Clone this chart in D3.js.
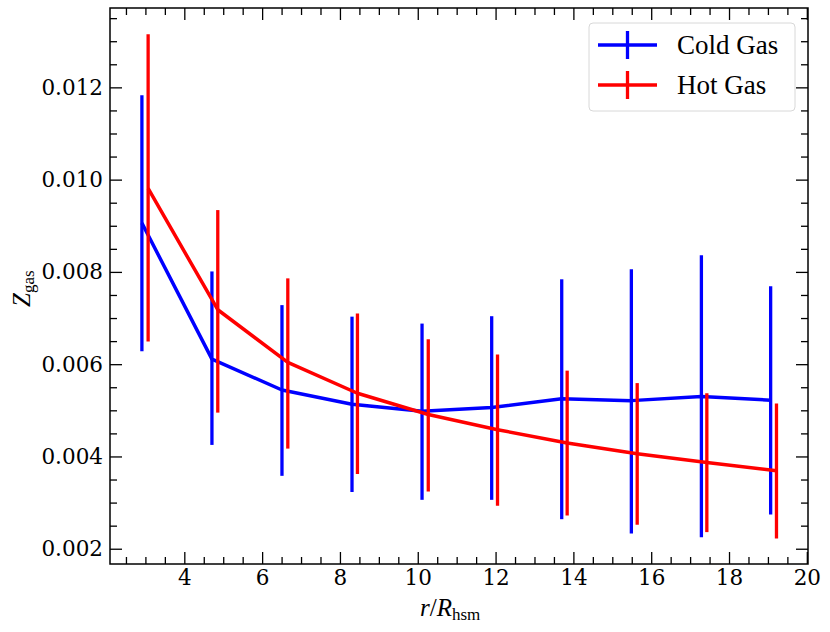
<!DOCTYPE html>
<html>
<head>
<meta charset="utf-8">
<script src="https://cdn.jsdelivr.net/npm/d3@7"></script>
<style>
  body { margin: 0; background: #fff; }
  svg { display: block; }
  .tick text { font-family: "DejaVu Serif", serif; font-size: 21.5px; fill: #000; }
</style>
</head>
<body>
<svg id="chart" width="830" height="632"></svg>
<script>
'use strict';

// radial bins
const coldR = [2.91, 4.71, 6.51, 8.31, 10.11, 11.90, 13.70, 15.49, 17.29, 19.07];
const coldZ = [0.00906, 0.00611, 0.00544, 0.00513, 0.00498, 0.00506, 0.00525, 0.00521, 0.00530, 0.00522];
const coldLo = [0.00628, 0.00425, 0.00358, 0.00323, 0.00306, 0.00306, 0.00264, 0.00233, 0.00225, 0.00274];
const coldHi = [0.01183, 0.00801, 0.00728, 0.00703, 0.00688, 0.00704, 0.00784, 0.00806, 0.00836, 0.00769];

const hotR = [3.07, 4.86, 6.66, 8.45, 10.27, 12.05, 13.84, 15.64, 17.43, 19.22];
const hotZ = [0.00981, 0.00718, 0.00604, 0.00537, 0.00491, 0.00458, 0.00429, 0.00406, 0.00387, 0.00369];
const hotLo = [0.00649, 0.00495, 0.00417, 0.00362, 0.00324, 0.00293, 0.00272, 0.00252, 0.00236, 0.00222];
const hotHi = [0.01315, 0.00934, 0.00786, 0.00710, 0.00654, 0.00621, 0.00586, 0.00559, 0.00537, 0.00515];

const seriesNames = ['Cold Gas', 'Hot Gas'];
const seriesColors = ['#0000ff', '#ff0000'];

const xTicks = [4, 6, 8, 10, 12, 14, 16, 18, 20];
const yTicks = [0.002, 0.004, 0.006, 0.008, 0.010, 0.012];

const svg = d3.select('#chart');
const frame = {left: 110, right: 808, top: 8, bottom: 564};

const x = d3.scaleLinear().domain([2.09, 20.03]).range([frame.left, frame.right]);
const y = d3.scaleLinear().domain([0.001669, 0.01372]).range([frame.bottom, frame.top]);

const xMinor = d3.range(2.5, 20.01, 0.5).filter(v => v % 2 !== 0);
const yMinor = d3.range(0.0020, 0.0137, 0.0005).filter(v => Math.abs(v / 0.002 - Math.round(v / 0.002)) > 0.01);

// data, drawn before the frame
const series = [
  {r: coldR, z: coldZ, lo: coldLo, hi: coldHi, color: seriesColors[0]},
  {r: hotR, z: hotZ, lo: hotLo, hi: hotHi, color: seriesColors[1]},
];
const line = d3.line().x(d => x(d.r)).y(d => y(d.z));

series.forEach(s => {
  const pts = s.r.map((r, i) => ({r: r, z: s.z[i], lo: s.lo[i], hi: s.hi[i]}));
  const g = svg.append('g');
  g.append('path')
    .datum(pts)
    .attr('d', line)
    .attr('fill', 'none')
    .attr('stroke', s.color)
    .attr('stroke-width', 3.5)
    .attr('stroke-linejoin', 'round');
  g.selectAll('line')
    .data(pts)
    .join('line')
    .attr('x1', d => x(d.r)).attr('x2', d => x(d.r))
    .attr('y1', d => y(d.lo)).attr('y2', d => y(d.hi))
    .attr('stroke', s.color)
    .attr('stroke-width', 3.3);
});

// axes with inward ticks on all four sides
function styleAxis(g) {
  g.select('.domain').remove();
  g.selectAll('.tick line').attr('stroke', '#000').attr('stroke-width', 1.3);
}
const H = frame.bottom - frame.top, W = frame.right - frame.left;

svg.append('g').attr('transform', `translate(0,${frame.bottom})`)
  .call(d3.axisBottom(x).tickValues(xTicks).tickSize(-12).tickPadding(6).tickFormat(d3.format('d')))
  .call(styleAxis);
svg.append('g').attr('transform', `translate(0,${frame.bottom})`)
  .call(d3.axisBottom(x).tickValues(xMinor).tickSize(-7).tickFormat(''))
  .call(styleAxis);
svg.append('g').attr('transform', `translate(0,${frame.top})`)
  .call(d3.axisTop(x).tickValues(xTicks).tickSize(-12).tickFormat(''))
  .call(styleAxis);
svg.append('g').attr('transform', `translate(0,${frame.top})`)
  .call(d3.axisTop(x).tickValues(xMinor).tickSize(-7).tickFormat(''))
  .call(styleAxis);

svg.append('g').attr('transform', `translate(${frame.left},0)`)
  .call(d3.axisLeft(y).tickValues(yTicks).tickSize(-12).tickPadding(7).tickFormat(d3.format('.3f')))
  .call(styleAxis);
svg.append('g').attr('transform', `translate(${frame.left},0)`)
  .call(d3.axisLeft(y).tickValues(yMinor).tickSize(-7).tickFormat(''))
  .call(styleAxis);
svg.append('g').attr('transform', `translate(${frame.right},0)`)
  .call(d3.axisRight(y).tickValues(yTicks).tickSize(-12).tickFormat(''))
  .call(styleAxis);
svg.append('g').attr('transform', `translate(${frame.right},0)`)
  .call(d3.axisRight(y).tickValues(yMinor).tickSize(-7).tickFormat(''))
  .call(styleAxis);

svg.append('rect')
  .attr('x', frame.left).attr('y', frame.top)
  .attr('width', W).attr('height', H)
  .attr('fill', 'none').attr('stroke', '#000').attr('stroke-width', 1.5);

// axis labels
const xl = svg.append('text')
  .attr('x', 420).attr('y', 616)
  .attr('font-family', '"Liberation Serif", serif')
  .attr('font-size', 25);
xl.append('tspan').attr('font-style', 'italic').text('r');
xl.append('tspan').text('/');
xl.append('tspan').attr('font-style', 'italic').text('R');
xl.append('tspan').attr('font-size', 17).attr('dy', 4).text('hsm');

const yl = svg.append('text')
  .attr('transform', 'translate(30,307) rotate(-90)')
  .attr('font-family', '"Liberation Serif", serif')
  .attr('font-size', 25);
yl.append('tspan').attr('font-style', 'italic').text('Z');
yl.append('tspan').attr('font-size', 17).attr('dy', 4).text('gas');

// legend
const legend = svg.append('g');
legend.append('rect')
  .attr('x', 589).attr('y', 23).attr('width', 206).attr('height', 88)
  .attr('rx', 4)
  .attr('fill', '#fff').attr('fill-opacity', 0.8)
  .attr('stroke', '#d8d8d8').attr('stroke-width', 1);
const items = legend.selectAll('g.item')
  .data(seriesNames)
  .join('g')
  .attr('class', 'item')
  .attr('transform', (d, i) => `translate(0,${45 + i * 40})`);
items.append('line')
  .attr('x1', 598).attr('x2', 657).attr('y1', 0).attr('y2', 0)
  .attr('stroke', (d, i) => seriesColors[i]).attr('stroke-width', 3.5);
items.append('line')
  .attr('x1', 627.5).attr('x2', 627.5).attr('y1', -14).attr('y2', 14)
  .attr('stroke', (d, i) => seriesColors[i]).attr('stroke-width', 3.3);
items.append('text')
  .attr('x', 677).attr('y', 9)
  .attr('font-family', '"Liberation Serif", serif')
  .attr('font-size', 27)
  .text(d => d);
</script>
</body>
</html>
